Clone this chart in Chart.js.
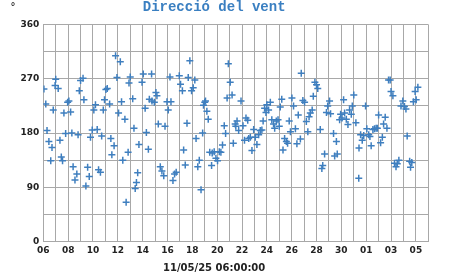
<!DOCTYPE html>
<html>
<head>
<meta charset="utf-8">
<title>Direcció del vent</title>
<script src="https://cdn.jsdelivr.net/npm/chart.js@4.4.1/dist/chart.umd.min.js"></script>
<style>
  html, body { margin: 0; padding: 0; background: #fff; }
</style>
</head>
<body>
<canvas id="vent" width="451" height="275"></canvas>
<script>
// Eix X: dies des de l'inici (06) ; etiquetes cada 2 dies
var xLabels = ['06', '08', '10', '12', '14', '16', '18', '20', '22', '24', '26', '28', '30', '01', '03', '05'];
var yLabels = [0, 90, 180, 270, 360];

// Temps de cada lectura (dies des de l'inici)
var dies = [
    0.05, 0.2, 0.3, 0.45, 0.6, 0.7, 0.8, 0.95, 1.0, 1.2, 1.34, 1.45, 1.55, 1.66, 1.8, 1.96,
    2.06, 2.2, 2.3, 2.4, 2.55, 2.7, 2.8, 2.9, 3.0, 3.2, 3.27, 3.43, 3.57, 3.7, 3.8, 3.94,
    4.07, 4.2, 4.34, 4.45, 4.6, 4.7, 4.83, 4.93, 5.04, 5.15, 5.34, 5.44, 5.52, 5.7, 5.82, 5.93,
    6.06, 6.2, 6.3, 6.4, 6.57, 6.67, 6.83, 6.9, 7.0, 7.2, 7.3, 7.4, 7.5, 7.6, 7.7,
    7.95, 8.05, 8.2, 8.3, 8.46, 8.54, 8.72, 8.75, 8.94, 9.07, 9.15, 9.26, 9.42, 9.55, 9.7, 9.8,
    9.96, 10.06, 10.2, 10.28, 10.44, 10.57, 10.7, 10.95, 11.05, 11.2, 11.3, 11.43, 11.57, 11.67, 11.8, 11.94,
    12.07, 12.2, 12.3, 12.44, 12.56, 12.7, 12.83, 12.9, 13.0, 13.06, 13.17, 13.28, 13.4, 13.55, 13.6, 13.76,
    13.9, 14.03, 14.17, 14.3, 14.43, 14.57, 14.68, 14.8, 14.9, 15.05, 15.2, 15.3, 15.45, 15.5,
    15.6, 15.73, 15.92, 16.08, 16.2, 16.32, 16.46, 16.54, 16.67, 16.8, 16.94, 17.07, 17.2, 17.34, 17.47, 17.6,
    17.7, 17.82, 17.93, 18.0, 18.14, 18.28, 18.4, 18.54, 18.63, 18.76, 18.9, 19.0, 19.08, 19.2, 19.3, 19.43,
    19.57, 19.67, 19.8, 19.9, 20.02, 20.15, 20.3, 20.42, 20.53, 20.7, 20.77, 20.9, 21.04, 21.18, 21.3, 21.4,
    21.5, 21.65, 21.74, 21.87, 22.0, 22.1, 22.3, 22.43, 22.5, 22.65, 22.8, 22.9, 23.05, 23.13,
    23.37, 23.46, 23.6, 23.67, 23.86, 23.94, 24.05, 24.18, 24.26, 24.4, 24.53, 24.66, 24.8, 24.88, 25.0, 25.17,
    25.4, 25.42, 25.55, 25.68, 25.8, 25.95, 26.05, 26.2, 26.3, 26.4, 26.54, 26.67, 26.8, 26.9, 27.0, 27.16,
    27.3, 27.4, 27.53, 27.67, 27.8, 27.93, 28.0, 28.15, 28.28, 28.4, 28.5, 28.63, 28.8, 28.95, 29.08, 29.2,
    29.3, 29.5, 29.57, 29.67, 29.8, 29.94, 30.02, 30.16
];

// Direccio del vent (graus)
var graus = [
    253, 228, 184, 166, 134, 156, 218, 259, 269, 254, 168, 140, 134, 213, 179, 231,
    233, 215, 180, 124, 102, 112, 177, 250, 267, 271, 235, 92, 123, 108, 173, 185,
    218, 227, 186, 119, 115, 175, 218, 235, 252, 254, 228, 171, 144, 159, 308, 272,
    213, 298, 232, 135, 203, 65, 148, 263, 273, 237, 188, 88, 98, 114, 161,
    264, 278, 221, 181, 153, 236, 278, 233, 231, 247, 242, 195, 124, 117, 109, 191,
    232, 218, 273, 232, 101, 112, 115, 275, 261, 250, 152, 127, 196, 272, 300, 250,
    255, 268, 171, 124, 135, 86, 180, 226, 231, 233, 216, 203, 148, 126, 147, 149,
    138, 134, 149, 148, 160, 192, 179, 238, 295, 264, 243, 163, 195, 191,
    200, 184, 233, 192, 168, 205, 201, 171, 173, 151, 186, 173, 161, 177, 184, 185,
    200, 221, 214, 227, 218, 231, 202, 195, 188, 200, 202, 191, 223, 236, 152, 171,
    166, 163, 200, 182, 238, 225, 187, 162, 210, 170, 279, 234, 231, 199, 182, 207,
    213, 218, 241, 264, 260, 254, 186, 121, 126, 145, 214, 225, 233, 212,
    179, 142, 166, 145, 202, 211, 205, 235, 213, 203, 194, 218, 211, 225, 243, 197,
    105, 155, 177, 168, 176, 225, 187, 177, 174, 159, 186, 187, 188, 188, 210, 164,
    173, 195, 206, 188, 268, 268, 249, 242, 130, 124, 129, 135, 225, 233, 224, 220,
    175, 133, 123, 131, 232, 249, 235, 256
];

var gridColor = '#a8a8a8';
var tickFont = { family: 'DejaVu Sans', size: 9, weight: 'bold' };

// simbol de grau a dalt a l'esquerra
var unitMark = {
    id: 'unitMark',
    afterDraw: function (chart) {
        var c = chart.ctx;
        c.save();
        c.font = 'bold 10px "DejaVu Sans"';
        c.fillStyle = '#333';
        c.textAlign = 'center';
        c.textBaseline = 'top';
        c.fillText('°', 13, 2);
        c.restore();
    }
};

var punts = dies.map(function (d, i) { return { x: d, y: graus[i] }; });

var ventChart = new Chart(document.getElementById('vent').getContext('2d'), {
    type: 'scatter',
    data: {
        datasets: [{
            label: 'Direcció',
            data: punts,
            pointStyle: 'cross',
            pointRadius: 3.5,
            pointBorderWidth: 1.5,
            pointBorderColor: '#3f7fbf',
            showLine: false
        }]
    },
    options: {
        responsive: false,
        animation: false,
        layout: {
            autoPadding: false,
            padding: { top: 0, right: 22.7, bottom: 0, left: 0 }
        },
        plugins: {
            legend: { display: false },
            tooltip: { enabled: false },
            title: {
                display: true,
                text: 'Direcció del vent',
                color: '#3a7fc1',
                font: { family: '"Liberation Mono", "DejaVu Sans Mono", monospace', size: 14, weight: 'bold', lineHeight: 1 },
                padding: { top: 0, bottom: 10.5 }
            },
            subtitle: {
                display: true,
                position: 'bottom',
                text: '11/05/25 06:00:00',
                color: '#222',
                font: { family: 'DejaVu Sans', size: 10, weight: 'bold', lineHeight: 1 },
                padding: { top: 4, bottom: 2 }
            }
        },
        scales: {
            x: {
                type: 'linear',
                min: 0,
                max: 31,
                afterFit: function (s) { s.height = 17.5; },
                grid: { color: gridColor, lineWidth: 1, drawTicks: false },
                border: { color: gridColor },
                ticks: {
                    stepSize: 1,
                    autoSkip: false,
                    maxRotation: 0,
                    padding: 4,
                    color: '#222',
                    font: tickFont,
                    callback: function (v) { return v % 2 === 0 ? xLabels[v / 2] : ''; }
                }
            },
            y: {
                min: 0,
                max: 360,
                afterFit: function (s) { s.width = 43.3; },
                grid: { color: gridColor, lineWidth: 1, drawTicks: false },
                border: { color: gridColor },
                ticks: {
                    stepSize: 45,
                    padding: 4,
                    color: '#222',
                    font: tickFont,
                    callback: function (v) { return yLabels.indexOf(v) >= 0 ? v : ''; }
                }
            }
        }
    },
    plugins: [unitMark]
});
</script>
</body>
</html>
